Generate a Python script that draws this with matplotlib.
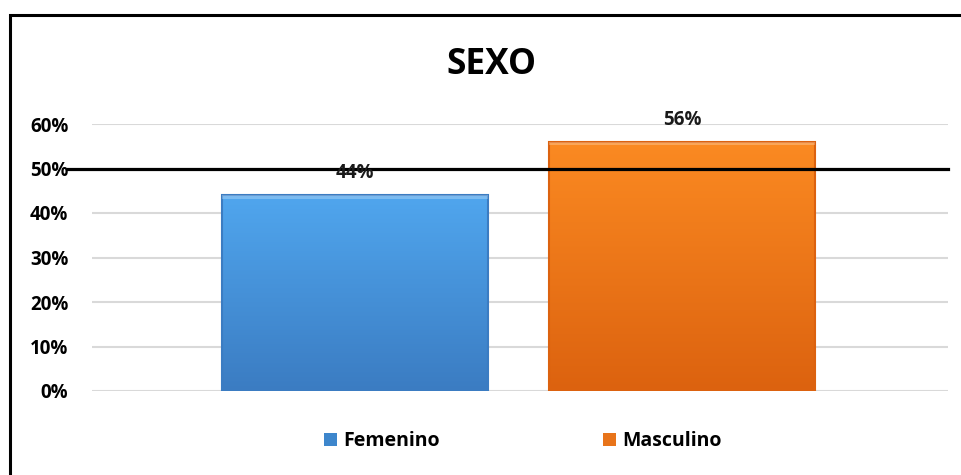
import numpy as np
import matplotlib
matplotlib.use("Agg")
import matplotlib.pyplot as plt
from matplotlib.patches import Rectangle
from matplotlib.colors import LinearSegmentedColormap

plt.rcParams['font.family'] = ['Open Sans', 'DejaVu Sans']
plt.rcParams['font.weight'] = 'bold'

# data
categories = ['Femenino', 'Masculino']
values = [0.44, 0.56]
labels = ['44%', '56%']
yticks = [0, 0.1, 0.2, 0.3, 0.4, 0.5, 0.6]
ytick_labels = ['0%', '10%', '20%', '30%', '40%', '50%', '60%']
title = 'SEXO'

# colours: (top, bottom) for the vertical gradient
bar_colors = [('#50a6ee', '#3b7cc2'), ('#fb8a22', '#dc620f')]
legend_colors = ['#3d86cc', '#e8741a']

fig = plt.figure(figsize=(9.61, 4.75), dpi=100)
ax = fig.add_axes([92 / 961, 1 - 391 / 475, 856 / 961, 267 / 475])

x = np.arange(len(categories))
width = 0.813

for xi, v, (top, bot) in zip(x, values, bar_colors):
    cmap = LinearSegmentedColormap.from_list('g', [bot, top])
    grad = np.linspace(0, 1, 256).reshape(-1, 1)
    ax.imshow(grad, extent=[xi - width / 2, xi + width / 2, 0, v], origin='lower',
              cmap=cmap, aspect='auto', zorder=3)
    ax.add_patch(Rectangle((xi - width / 2, 0), width, v, fill=False,
                           edgecolor=bot, linewidth=1.5, zorder=4))
    # light top bevel
    ax.add_patch(Rectangle((xi - width / 2, v - 0.008), width, 0.008,
                           facecolor='white', alpha=0.25, linewidth=0, zorder=5))

for xi, v, lab in zip(x, values, labels):
    ax.text(xi, v + 0.05, lab, ha='center', va='center', fontsize=13.5,
            fontweight='bold', color='#1a1a1a', zorder=7)

ax.set_xlim(-0.804, 1.813)
ax.set_ylim(0, 0.6)
ax.set_yticks(yticks)
ax.set_yticklabels(ytick_labels, fontsize=13.5, fontweight='bold')
ax.tick_params(axis='y', length=0, pad=17)
ax.set_xticks([])
ax.grid(axis='y', color='#d9d9d9', linewidth=1.5, zorder=0)
for s in ax.spines.values():
    s.set_visible(False)

# black reference line at 50%
ax.axhline(0.5, xmin=(68 - 92) / 856, xmax=1, color='black', linewidth=2.3,
           clip_on=False, zorder=6)

fig.text(491 / 961, 1 - 65 / 475, title, ha='center', va='center',
         fontsize=25.5, fontweight='bold')

handles = [Rectangle((0, 0), 1, 1, facecolor=c) for c in legend_colors]
fig.legend(handles, categories, loc='center', bbox_to_anchor=(523 / 961, 1 - 441 / 475),
           ncol=2, frameon=False, prop={'weight': 'bold', 'size': 14},
           handlelength=0.67, handleheight=0.67, handletextpad=0.3, columnspacing=8.4)

# outer frame, running off the right and bottom edges
fig.add_artist(Rectangle((10 / 961, -0.05), 1.0, 1 - 15 / 475 + 0.05,
                         transform=fig.transFigure, fill=False,
                         edgecolor='black', linewidth=2.2))

fig.savefig('out.png', dpi=100)
